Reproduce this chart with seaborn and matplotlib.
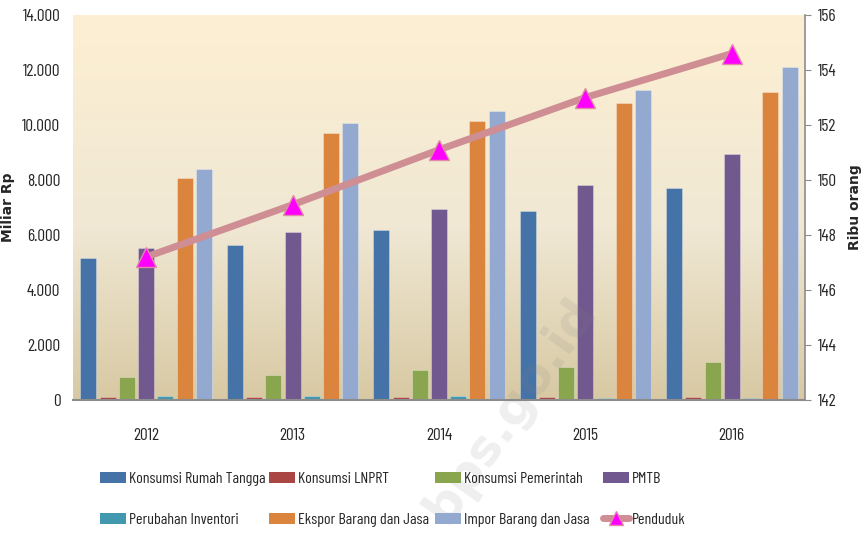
import matplotlib
matplotlib.use("Agg")
import matplotlib.pyplot as plt
from matplotlib.colors import LinearSegmentedColormap
from matplotlib.patches import Patch
from matplotlib.lines import Line2D
import seaborn as sns
import pandas as pd
import numpy as np

# data
years = ["2012", "2013", "2014", "2015", "2016"]
components = ["Konsumsi Rumah Tangga", "Konsumsi LNPRT", "Konsumsi Pemerintah", "PMTB",
              "Perubahan Inventori", "Ekspor Barang dan Jasa", "Impor Barang dan Jasa"]
konsumsi_rt = [5150, 5640, 6180, 6870, 7700]
konsumsi_lnprt = [95, 95, 95, 95, 95]
konsumsi_pemerintah = [840, 900, 1090, 1210, 1395]
pmtb = [5520, 6110, 6945, 7820, 8945]
perubahan_inventori = [150, 150, 150, 70, 70]
ekspor = [8075, 9710, 10145, 10810, 11190]
impor = [8390, 10075, 10510, 11260, 12120]
penduduk = [147.2, 149.1, 151.1, 153.0, 154.6]

colors = ["#4572A7", "#AA4643", "#89A54E", "#71588F", "#4198AF", "#DB843D", "#93A9CF"]
line_color = "#CE8E93"

series = [konsumsi_rt, konsumsi_lnprt, konsumsi_pemerintah, pmtb,
          perubahan_inventori, ekspor, impor]
df = pd.DataFrame({
    "tahun": np.tile(years, len(components)),
    "komponen": np.repeat(components, len(years)),
    "nilai": np.concatenate(series),
})

sns.set_style("white")
plt.rcParams["font.family"] = ["Barlow Condensed", "Archivo Narrow", "Liberation Sans", "DejaVu Sans"]

fig = plt.figure(figsize=(8.64, 5.34), dpi=100)
ax = fig.add_axes([73 / 864, 1 - 400 / 534, 732 / 864, 385 / 534])

# gradient background of the plot area
bg = LinearSegmentedColormap.from_list("bg", [(0, "#D8C9A3"), (0.45, "#F0E8D4"), (1, "#FDEFD2")])
grad = np.linspace(0, 1, 256).reshape(-1, 1)
ax.imshow(grad, extent=[0, 1, 0, 1], transform=ax.transAxes, aspect="auto",
          cmap=bg, origin="lower", zorder=0)

sns.barplot(data=df, x="tahun", y="nilai", hue="komponen", hue_order=components,
            palette=colors, saturation=1, width=0.92, gap=0.17, legend=False, ax=ax,
            edgecolor=(1, 1, 1, 0.35), linewidth=0.6, zorder=2)

ax.set_xlim(-0.5, 4.5)
ax.set_ylim(0, 14000)
ax.set_yticks(np.arange(0, 14001, 2000))
ax.set_yticklabels(["0"] + [f"{v // 1000}.000" for v in range(2000, 14001, 2000)])
ax.set_xlabel("")
ax.set_ylabel("Miliar Rp", family="DejaVu Sans", fontweight="bold", fontsize=10)
ax.yaxis.set_label_coords(-0.079, 0.5)
ax.tick_params(axis="y", length=0, pad=9, labelsize=12.5)
ax.tick_params(axis="x", length=0, pad=20, labelsize=12.5)
for s in ["left", "top", "right"]:
    ax.spines[s].set_visible(False)
ax.spines["bottom"].set_color("#8C8C8C")
ax.spines["bottom"].set_linewidth(1.5)

# population on the right axis
ax2 = ax.twinx()
sns.lineplot(x=np.arange(len(years)), y=penduduk, ax=ax2, color=line_color, linewidth=5,
             marker="^", markersize=14, markerfacecolor="#FF00FF",
             markeredgecolor="#E08AA8", markeredgewidth=1, zorder=5)
ax2.set_xlim(-0.5, 4.5)
ax2.set_ylim(142, 156)
ax2.set_yticks(np.arange(142, 157, 2))
ax2.set_ylabel("Ribu orang", family="DejaVu Sans", fontweight="bold", fontsize=10)
ax2.yaxis.set_label_coords(1.059, 0.5)
ax2.tick_params(axis="y", length=4, color="#8C8C8C", pad=5, labelsize=12.5)
for s in ["left", "top", "bottom"]:
    ax2.spines[s].set_visible(False)
ax2.spines["right"].set_color("#8C8C8C")
ax2.spines["right"].set_linewidth(1.2)

# legend: four columns of two entries, each column placed where the reference has it
handles = [Patch(facecolor=c, edgecolor="none") for c in colors]
handles.append(Line2D([], [], color=line_color, linewidth=5, marker="^", markersize=10,
                      markerfacecolor="#FF00FF", markeredgecolor="#E08AA8"))
labels = components + ["Penduduk"]
col_x = [100, 269, 435, 603]
leg_fs = 11.5
for c, x in enumerate(col_x):
    idx = [c, c + 4]
    fig.legend([handles[i] for i in idx], [labels[i] for i in idx],
               loc="upper left", bbox_to_anchor=(x / 864, 1 - 472 / 534), frameon=False,
               fontsize=leg_fs, handlelength=26 / (leg_fs * 100 / 72),
               handleheight=0.72, handletextpad=3 / (leg_fs * 100 / 72),
               labelspacing=1.65, borderpad=0, borderaxespad=0)

# faint watermark
fig.text(510 / 864, 1 - 410 / 534, "bps.go.id", rotation=55, rotation_mode="anchor",
         ha="center", va="center", fontsize=36, fontweight="bold",
         family="DejaVu Sans", color="#808080", alpha=0.13)

fig.savefig("out.png", dpi=100)
